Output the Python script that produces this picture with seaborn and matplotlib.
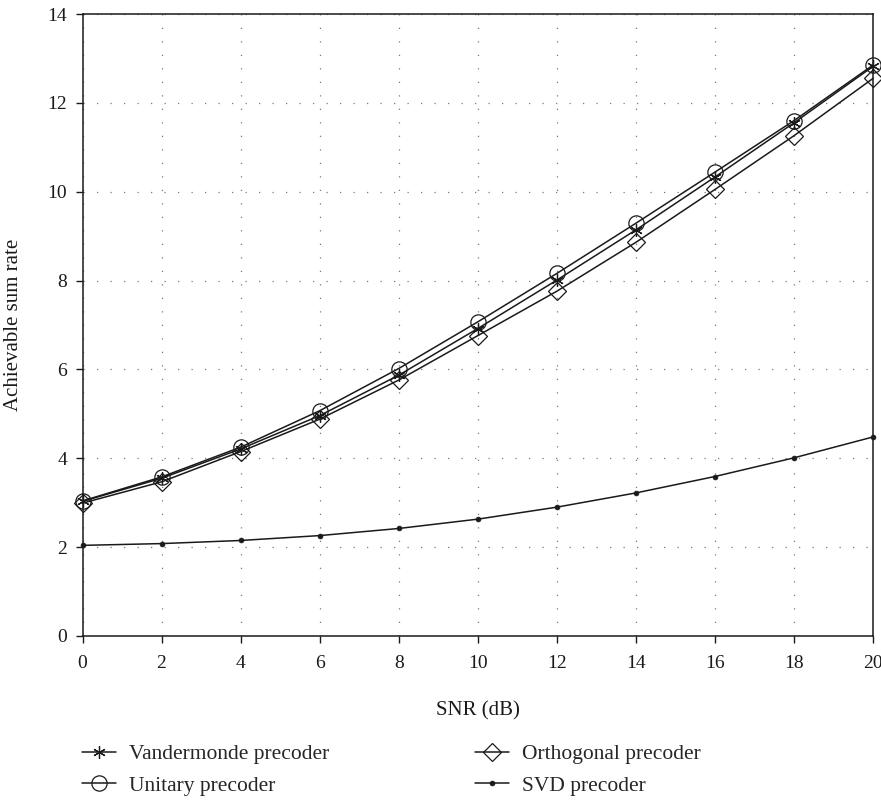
import matplotlib
matplotlib.use("Agg")
import matplotlib.pyplot as plt
import seaborn as sns
import pandas as pd

snr = [0, 2, 4, 6, 8, 10, 12, 14, 16, 18, 20]
vandermonde = [3.03, 3.55, 4.21, 4.96, 5.87, 6.92, 8.01, 9.14, 10.33, 11.55, 12.82]
unitary = [3.04, 3.58, 4.25, 5.07, 6.02, 7.07, 8.16, 9.29, 10.44, 11.60, 12.85]
orthogonal = [2.99, 3.47, 4.15, 4.88, 5.76, 6.76, 7.76, 8.86, 10.05, 11.26, 12.55]
svd = [2.04, 2.08, 2.15, 2.26, 2.42, 2.63, 2.90, 3.22, 3.59, 4.01, 4.48]

labels = ["Vandermonde precoder", "Unitary precoder", "Orthogonal precoder", "SVD precoder"]
xticks = [0, 2, 4, 6, 8, 10, 12, 14, 16, 18, 20]
yticks = [0, 2, 4, 6, 8, 10, 12, 14]

sns.set_theme(style="white")
plt.rcParams["font.family"] = ["Liberation Serif", "DejaVu Serif"]

fig = plt.figure(figsize=(8.81, 8.01), dpi=100)
ax = fig.add_axes([82.5 / 881, 1 - 636 / 801, (873 - 82.5) / 881, (636 - 14) / 801])

ink = "#1a1a1a"
series = [
    (vandermonde, labels[0], dict(marker=(6, 2, 0), markersize=9, markerfacecolor=ink, markeredgecolor=ink, markeredgewidth=0.9)),
    (unitary, labels[1], dict(marker="o", markersize=11, markerfacecolor="none", markeredgecolor=ink, markeredgewidth=0.9)),
    (orthogonal, labels[2], dict(marker="D", markersize=9, markerfacecolor="none", markeredgecolor=ink, markeredgewidth=0.9)),
    (svd, labels[3], dict(marker="o", markersize=3.5, markerfacecolor=ink, markeredgecolor=ink, markeredgewidth=0.5)),
]

for vals, lab, mk in series:
    df = pd.DataFrame({"SNR": snr, "rate": vals})
    sns.lineplot(data=df, x="SNR", y="rate", ax=ax, color=ink, linewidth=1.1,
                 label=lab, errorbar=None, clip_on=False, zorder=3, **mk)

ax.set_xlim(0, 20)
ax.set_ylim(0, 14)
ax.set_xticks(xticks)
ax.set_yticks(yticks)
ax.tick_params(axis="both", which="major", direction="out", length=5, width=1,
               color=ink, labelsize=14, labelcolor=ink,
               bottom=True, left=True, top=False, right=False)
ax.tick_params(axis="x", pad=9)
ax.tick_params(axis="y", pad=6)
ax.grid(True, color="#7a7a7a", linestyle=(0, (1, 9.8)), linewidth=0.9, zorder=0)
for s in ax.spines.values():
    s.set_visible(True)
    s.set_color(ink)
    s.set_linewidth(1.1)

ax.set_xlabel("SNR (dB)", fontsize=15, color=ink)
ax.set_ylabel("Achievable sum rate", fontsize=15, color=ink)
ax.xaxis.set_label_coords(0.5, (636 - 711) / 622)
ax.xaxis.label.set_va("center")
ax.yaxis.set_label_coords((14 - 82.5) / 790.5, 0.5)
ax.yaxis.label.set_va("center")

handles, labs = ax.get_legend_handles_labels()
if ax.legend_:
    ax.legend_.remove()
fig.legend(handles, labs, ncol=2, loc="upper left",
           bbox_to_anchor=(82 / 881, 1 - 744 / 801), frameon=False,
           fontsize=15.5, handlelength=1.6, handletextpad=0.6,
           columnspacing=6.75, labelspacing=0.55, borderpad=0, borderaxespad=0)

fig.savefig("out.png", dpi=100)
